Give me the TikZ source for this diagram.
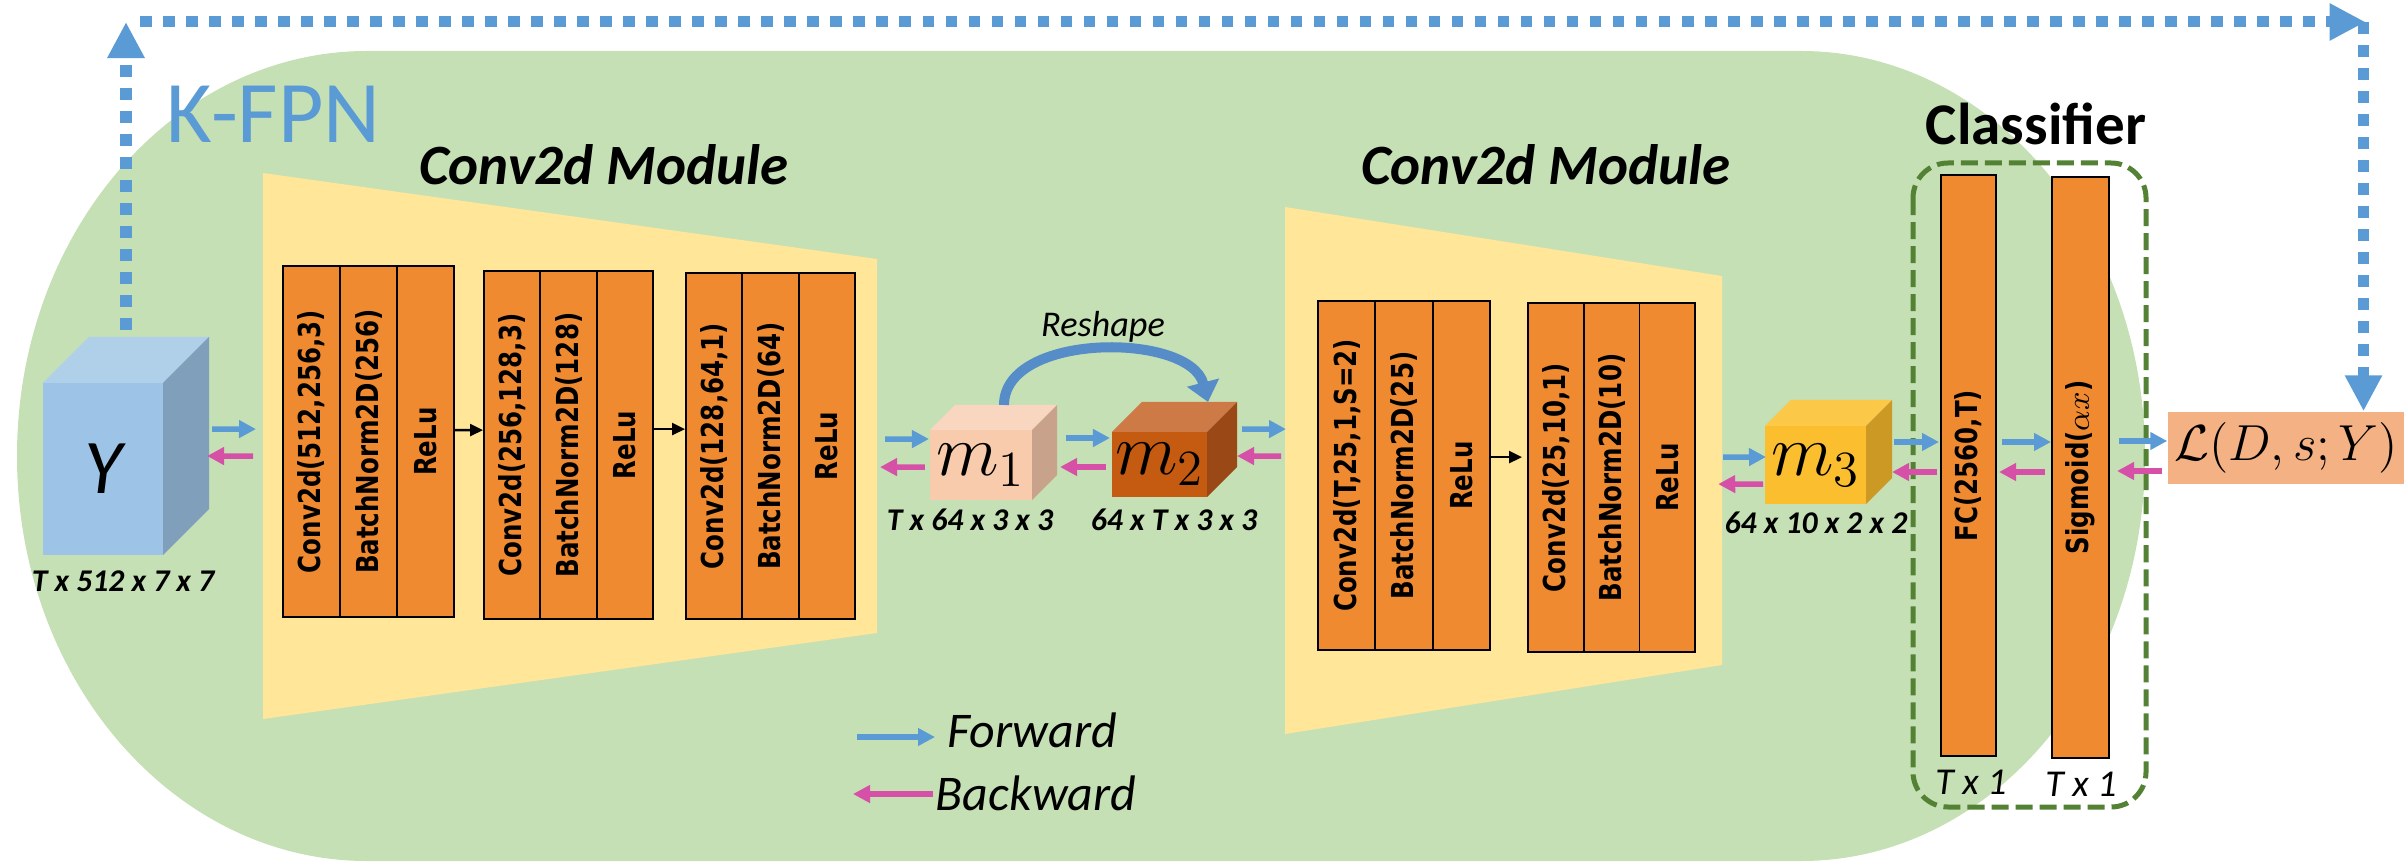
\documentclass[tikz,border=0pt]{standalone}
\usepackage[no-math]{fontspec}
\setmainfont{Carlito}
\newfontfamily\colfont{DejaVu Sans}[FakeStretch=0.81]
\usepackage{tikz}
\usetikzlibrary{arrows.meta,calc,positioning}

\definecolor{kfpngreen}{RGB}{197,224,180}
\definecolor{modyellow}{RGB}{255,230,153}
\definecolor{layerorange}{RGB}{240,138,48}
\definecolor{fblue}{RGB}{91,155,213}
\definecolor{bpink}{RGB}{213,80,166}
\definecolor{yfront}{RGB}{157,195,230}
\definecolor{ytop}{RGB}{176,207,233}
\definecolor{yside}{RGB}{127,159,187}
\definecolor{mafront}{RGB}{248,203,173}
\definecolor{matop}{RGB}{249,214,191}
\definecolor{maside}{RGB}{201,162,140}
\definecolor{mbfront}{RGB}{197,90,17}
\definecolor{mbtop}{RGB}{205,122,70}
\definecolor{mbside}{RGB}{154,72,22}
\definecolor{mcfront}{RGB}{251,190,46}
\definecolor{mctop}{RGB}{252,200,72}
\definecolor{mcside}{RGB}{204,154,36}
\definecolor{lossfill}{RGB}{244,177,131}
\definecolor{clsgreen}{RGB}{84,130,53}
\definecolor{reshapeblue}{RGB}{86,140,200}

\tikzstyle{convlayer}=[draw=black, line width=0.55pt, fill=layerorange, inner sep=0pt, outer sep=0pt]
\tikzstyle{layertext}=[rotate=90, inner sep=0pt, font=\fontsize{8.6}{10}\selectfont\colfont\bfseries]
\tikzstyle{cubefront}=[inner sep=0pt, outer sep=0pt]
\tikzstyle{cubemath}=[font=\fontsize{19.5}{22}\selectfont]
\tikzstyle{modtitle}=[anchor=base, inner sep=0pt, font=\fontsize{16.2}{19}\selectfont\bfseries\itshape]
\tikzstyle{dimtext}=[anchor=base, inner sep=0pt, font=\fontsize{9}{11}\selectfont\bfseries\itshape]
\tikzstyle{fwd}=[draw=fblue, line width=0.055cm, -{Triangle[length=0.17cm,width=0.17cm]}]
\tikzstyle{bwd}=[draw=bpink, line width=0.055cm, -{Triangle[length=0.17cm,width=0.17cm]}]
\tikzstyle{blk}=[draw=black, line width=0.7pt, -{Triangle[length=0.13cm,width=0.12cm]}]
\tikzstyle{feedback}=[draw=fblue, line width=0.11cm, dash pattern=on 0.115cm off 0.115cm,
  -{Triangle[length=0.36cm,width=0.35cm]}]
\tikzstyle{clsbox}=[draw=clsgreen, line width=0.05cm, dash pattern=on 0.17cm off 0.07cm,
  rounded corners=0.35cm]

% three orange columns side by side
\newcommand{\convgroup}[7]{%
  \node[convlayer, anchor=north west, minimum width=#4, minimum height=#3,
    label={[layertext]center:{#5}}] (#1a) at #2 {};
  \node[convlayer, minimum width=#4, minimum height=#3, right=0pt of #1a,
    label={[layertext]center:{#6}}] (#1b) {};
  \node[convlayer, minimum width=#4, minimum height=#3, right=0pt of #1b,
    label={[layertext]center:{#7}}] (#1c) {};}
% top and side faces of a cube
\newcommand{\cubefaces}[4]{%
  \fill[#3] (#1.north west) -- ++(#2,-#2) -- ($(#1.north east)+(#2,-#2)$) -- (#1.north east) -- cycle;
  \fill[#4] (#1.north east) -- ++(#2,-#2) -- ($(#1.south east)+(#2,-#2)$) -- (#1.south east) -- cycle;}

\begin{document}
\begin{tikzpicture}[x=0.01cm, y=-0.01cm]
  \useasboundingbox (0,0) rectangle (2404,864);
  % K-FPN area
  \fill[kfpngreen] (367,51) -- (1801,51)
    .. controls (1991,51) and (2145,232) .. (2145,456)
    .. controls (2145,680) and (1991,861) .. (1801,861) -- (367,861)
    .. controls (174,861) and (17,680) .. (17,456)
    .. controls (17,232) and (174,51) .. (367,51) -- cycle;
  \node[anchor=base west, inner sep=0pt, text=fblue, font=\fontsize{25}{30}\selectfont]
    (kfpn) at (166,143) {K-FPN};
  % Conv2d modules
  \fill[modyellow] (263,173) -- (877,259) -- (877,633) -- (263,719) -- cycle;
  \fill[modyellow] (1285,207) -- (1722,276) -- (1722,665) -- (1285,734) -- cycle;
  \node[modtitle] (lmodtitle) at (604,185) {Conv2d Module};
  \node[modtitle] (rmodtitle) at (1546,185) {Conv2d Module};
  \convgroup{g1}{(283,266)}{3.51cm}{0.57cm}{Conv2d(512,256,3)}{BatchNorm2D(256)}{ReLu}
  \convgroup{g2}{(484,271)}{3.48cm}{0.563cm}{Conv2d(256,128,3)}{BatchNorm2D(128)}{ReLu}
  \convgroup{g3}{(686,273)}{3.46cm}{0.563cm}{Conv2d(128,64,1)}{BatchNorm2D(64)}{ReLu}
  \convgroup{r1}{(1318,301)}{3.49cm}{0.573cm}{Conv2d(T,25,1,S=2)}{BatchNorm2D(25)}{ReLu}
  \convgroup{r2}{(1528,303)}{3.49cm}{0.557cm}{Conv2d(25,10,1)}{BatchNorm2D(10)}{ReLu}
  \draw[blk] ($(g1c.east)+(0,-11.5)$) -- ($(g2a.west)+(-1,-15)$);
  \draw[blk] ($(g2c.east)+(0,-16)$) -- ($(g3a.west)+(-1,-17)$);
  \draw[blk] ($(r1c.east)+(0,-18.5)$) -- ($(r2a.west)+(-6,-20.5)$);
  % cubes
  \node[cubefront, fill=yfront, minimum width=1.2cm, minimum height=1.72cm,
    font=\fontsize{22}{26}\selectfont\itshape] (ycube) at (103,469) {Y};
  \cubefaces{ycube}{46}{ytop}{yside}
  \node[cubefront, cubemath, fill=mafront, minimum width=1.02cm, minimum height=0.7cm]
    (m1) at (981,465) {$m_1$};
  \cubefaces{m1}{25}{matop}{maside}
  \node[cubefront, cubemath, fill=mbfront, minimum width=0.95cm, minimum height=0.65cm]
    (m2) at (1159.5,464.5) {$m_2$};
  \cubefaces{m2}{30}{mbtop}{mbside}
  \node[cubefront, cubemath, fill=mcfront, minimum width=1.01cm, minimum height=0.78cm]
    (m3) at (1815.5,465) {$m_3$};
  \cubefaces{m3}{26}{mctop}{mcside}
  \node[dimtext] (ydim) at (123,591) {T x 512 x 7 x 7};
  \node[dimtext] (m1dim) at (970,530) {T x 64 x 3 x 3};
  \node[dimtext] (m2dim) at (1174,530) {64 x T x 3 x 3};
  \node[dimtext] (m3dim) at (1816,533) {64 x 10 x 2 x 2};
  % reshape
  \node[anchor=base, inner sep=0pt, font=\fontsize{10.3}{12}\selectfont\itshape]
    (reshape) at (1103,337) {Reshape};
  \draw[draw=reshapeblue, line width=0.1cm, -{Triangle[length=0.2cm,width=0.32cm]}]
    ($(m1.north)+(23,-25)$) .. controls +(0,-73) and +(-18,-70) .. ($(m2.north)+(48.5,-30)$);
  % classifier
  \node[anchor=base, inner sep=0pt, font=\fontsize{16.8}{20}\selectfont\bfseries]
    (clstitle) at (2036,145) {Classifier};
  \draw[clsbox] (1913,163) rectangle (2146,807);
  \node[convlayer, minimum width=0.55cm, minimum height=5.81cm,
    label={[layertext]center:{FC(2560,T)}}] (fc) at (1968.5,465.5) {};
  \node[convlayer, minimum width=0.57cm, minimum height=5.81cm,
    label={[layertext]center:{Sigmoid($\alpha x$)}}] (sig) at (2080.5,467.5) {};
  \node[anchor=base, inner sep=0pt, font=\fontsize{10.8}{13}\selectfont\itshape]
    (fcdim) at (1971,794) {T x 1};
  \node[anchor=base, inner sep=0pt, font=\fontsize{10.8}{13}\selectfont\itshape]
    (sigdim) at (2081,796) {T x 1};
  % loss
  \node[fill=lossfill, inner sep=0pt, minimum width=2.36cm, minimum height=0.72cm,
    font=\fontsize{15.6}{18}\selectfont] (loss) at (2286,448) {$\mathcal{L}(D,s;Y)$};
  % forward / backward
  \draw[fwd] ($(ycube.east)+(49,-40)$) -- ($(g1a.west)+(-27,-12.5)$);
  \draw[bwd] ($(g1a.west)+(-30,14.5)$) -- ($(ycube.east)+(44,-13)$);
  \draw[fwd] ($(g3c.east)+(30,-7)$) -- ($(m1.west)+(-1,-26)$);
  \draw[bwd] ($(m1.west)+(-5,2)$) -- ($(g3c.east)+(25,21)$);
  \draw[fwd] ($(m1.east)+(34,-27)$) -- ($(m2.west)+(-2,-26.5)$);
  \draw[bwd] ($(m2.west)+(-6,2.5)$) -- ($(m1.east)+(28,2)$);
  \draw[fwd] ($(m2.east)+(35,-35.5)$) -- ($(r1a.west)+(-32,-46.5)$);
  \draw[bwd] ($(r1a.west)+(-37,-19.5)$) -- ($(m2.east)+(30,-8.5)$);
  \draw[fwd] ($(r2c.east)+(28,-20.5)$) -- ($(m3.west)+(1,-8)$);
  \draw[bwd] ($(m3.west)+(-2,19)$) -- ($(r2c.east)+(23,6.5)$);
  \draw[fwd] ($(m3.east)+(28,-23)$) -- ($(fc.west)+(-2,-23.5)$);
  \draw[bwd] ($(fc.west)+(-4,6.5)$) -- ($(m3.east)+(26,7)$);
  \draw[fwd] ($(fc.east)+(6,-23.5)$) -- ($(sig.west)+(-1,-25.5)$);
  \draw[bwd] ($(sig.west)+(-7,4.5)$) -- ($(fc.east)+(3,6.5)$);
  \draw[fwd] ($(sig.east)+(10,-26.5)$) -- ($(loss.west)+(0,-7)$);
  \draw[bwd] ($(loss.west)+(-5,23)$) -- ($(sig.east)+(8,3.5)$);
  % legend
  \node[anchor=base west, inner sep=0pt, font=\fontsize{14.2}{17}\selectfont\itshape]
    (fwdlbl) at (947,747) {Forward};
  \node[anchor=base west, inner sep=0pt, font=\fontsize{14.2}{17}\selectfont\itshape]
    (bwdlbl) at (935,810) {Backward};
  \draw[fwd] ($(fwdlbl.base west)+(-90,-10)$) -- ($(fwdlbl.base west)+(-12,-10)$);
  \draw[bwd] ($(bwdlbl.base west)+(-2,-16)$) -- ($(bwdlbl.base west)+(-82,-16)$);
  % dotted path from Y to the loss
  \coordinate (fbleft) at (126,22);
  \coordinate (fbright) at (2363.5,22);
  \draw[feedback] ($(ycube.north)+(23,-53)$) -- (fbleft);
  \draw[feedback] ($(fbleft)+(14,0)$) -- ($(fbright)+(2,0)$);
  \draw[feedback] (fbright) -- (fbright |- loss.north);
\end{tikzpicture}
\end{document}
